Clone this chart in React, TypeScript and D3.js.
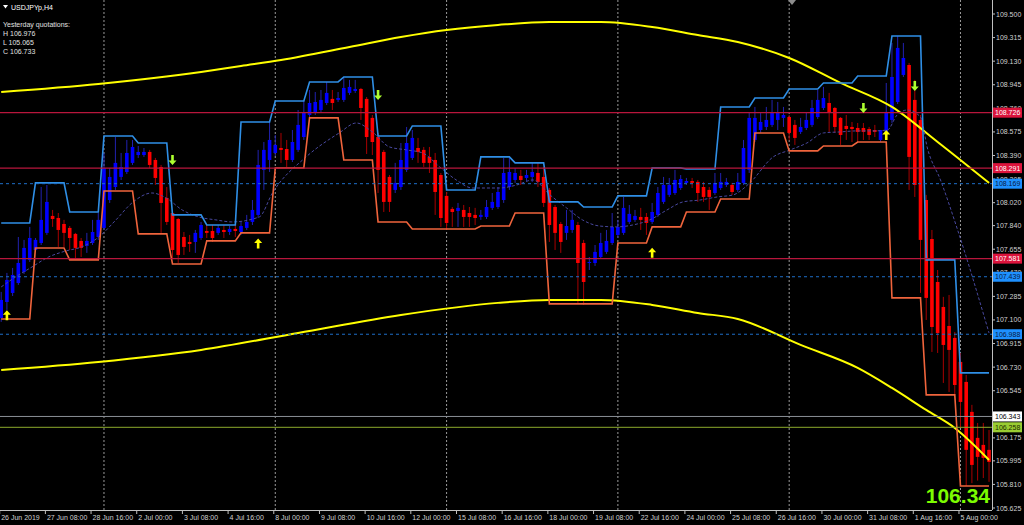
import React from 'react';
import * as d3 from 'd3';

// ---------- DATA ----------
const opens = [
  107.116, 107.241, 107.312, 107.390, 107.477, 107.571, 107.649, 107.704, 107.783, 107.916,
  107.900, 107.853, 107.822, 107.775, 107.720, 107.681, 107.704, 107.751, 107.822, 108.041,
  108.143, 108.222, 108.261, 108.332, 108.394, 108.394, 108.418, 108.355, 108.300, 108.057,
  107.939, 107.892, 107.751, 107.712, 107.712, 107.743, 107.798, 107.798, 107.783, 107.806,
  107.790, 107.814, 107.790, 107.822, 107.869, 107.924, 108.277, 108.355, 108.410, 108.449,
  108.441, 108.355, 108.434, 108.535, 108.708, 108.724, 108.747, 108.802, 108.834, 108.826,
  108.826, 108.881, 108.896, 108.912, 108.834, 108.685, 108.535, 108.418, 108.222, 108.120,
  108.143, 108.277, 108.371, 108.449, 108.434, 108.379, 108.355, 108.237, 108.073, 107.971,
  107.955, 107.963, 107.939, 107.924, 107.908, 107.908, 107.979, 107.986, 108.041, 108.143,
  108.198, 108.230, 108.214, 108.222, 108.253, 108.222, 108.120, 107.986, 107.853, 107.783,
  107.806, 107.845, 107.704, 107.547, 107.547, 107.594, 107.634, 107.704, 107.767, 107.783,
  107.869, 107.885, 107.908, 107.908, 107.869, 107.924, 108.026, 108.081, 108.096, 108.135,
  108.175, 108.190, 108.183, 108.143, 108.120, 108.096, 108.135, 108.159, 108.159, 108.120,
  108.175, 108.277, 108.512, 108.590, 108.614, 108.630, 108.669, 108.685, 108.692, 108.630,
  108.575, 108.606, 108.630, 108.692, 108.763, 108.802, 108.763, 108.685, 108.622, 108.614,
  108.606, 108.606, 108.598, 108.590, 108.512, 108.575, 108.669, 108.810, 109.022, 109.100,
  108.826, 108.669, 108.041, 107.735, 107.398, 107.202, 107.053, 106.959, 106.771, 106.614,
  106.379, 106.175, 106.120, 106.081,
];
const highs = [
  107.320, 107.469, 107.508, 107.751, 107.728, 107.830, 107.743, 108.143, 108.159, 107.963,
  107.939, 107.885, 107.837, 107.783, 107.743, 107.783, 107.885, 107.939, 108.410, 108.292,
  108.535, 108.410, 108.512, 108.512, 108.465, 108.449, 108.434, 108.371, 108.316, 108.143,
  107.963, 107.900, 107.790, 107.767, 107.806, 107.869, 107.845, 107.845, 107.845, 107.845,
  107.837, 107.845, 107.869, 107.924, 108.041, 108.434, 108.496, 108.653, 108.551, 108.567,
  108.512, 108.590, 108.747, 108.818, 108.904, 108.888, 108.904, 108.967, 108.904, 108.888,
  108.998, 108.983, 108.983, 108.920, 108.849, 108.708, 108.567, 108.434, 108.237, 108.332,
  108.488, 108.614, 108.590, 108.528, 108.457, 108.457, 108.410, 108.253, 108.104, 107.986,
  108.018, 108.002, 107.986, 107.979, 107.963, 108.041, 108.096, 108.143, 108.371, 108.371,
  108.292, 108.277, 108.277, 108.332, 108.332, 108.300, 108.135, 108.002, 107.869, 107.963,
  107.963, 107.869, 107.728, 107.594, 107.688, 107.783, 107.806, 107.939, 107.885, 108.065,
  108.002, 107.963, 107.979, 107.939, 108.018, 108.143, 108.222, 108.214, 108.277, 108.237,
  108.214, 108.214, 108.198, 108.183, 108.143, 108.253, 108.253, 108.214, 108.175, 108.253,
  108.512, 108.724, 108.771, 108.724, 108.771, 108.826, 108.810, 108.771, 108.708, 108.669,
  108.685, 108.724, 108.826, 108.904, 108.928, 108.881, 108.771, 108.692, 108.708, 108.653,
  108.645, 108.645, 108.614, 108.630, 108.590, 108.959, 109.273, 109.328, 109.273, 109.116,
  108.983, 108.708, 108.081, 107.806, 107.492, 107.281, 107.296, 107.006, 106.841, 106.669,
  106.434, 106.292, 106.292, 106.237,
];
const lows = [
  107.085, 107.179, 107.288, 107.375, 107.461, 107.555, 107.634, 107.688, 107.767, 107.830,
  107.673, 107.673, 107.649, 107.571, 107.594, 107.626, 107.688, 107.728, 107.806, 108.018,
  108.120, 108.198, 108.245, 108.316, 108.371, 108.379, 108.292, 108.159, 107.783, 107.845,
  107.586, 107.547, 107.610, 107.634, 107.626, 107.728, 107.743, 107.712, 107.767, 107.743,
  107.767, 107.751, 107.767, 107.806, 107.845, 107.900, 108.120, 108.261, 108.386, 108.332,
  108.300, 108.339, 108.418, 108.512, 108.685, 108.708, 108.732, 108.786, 108.747, 108.810,
  108.810, 108.865, 108.881, 108.669, 108.402, 108.394, 108.096, 107.947, 107.947, 108.096,
  108.120, 108.261, 108.355, 108.332, 108.300, 108.253, 107.924, 107.830, 107.806, 107.830,
  107.830, 107.830, 107.830, 107.845, 107.885, 107.892, 107.963, 107.971, 108.018, 108.120,
  108.175, 108.159, 108.190, 108.183, 108.143, 107.986, 107.712, 107.649, 107.626, 107.728,
  107.783, 107.234, 107.218, 107.492, 107.524, 107.579, 107.618, 107.688, 107.743, 107.767,
  107.853, 107.869, 107.806, 107.767, 107.853, 107.908, 108.010, 108.065, 108.081, 108.120,
  108.159, 108.135, 108.026, 108.026, 107.963, 108.081, 108.120, 108.143, 108.081, 108.104,
  108.159, 108.253, 108.496, 108.567, 108.590, 108.614, 108.590, 108.614, 108.512, 108.473,
  108.559, 108.590, 108.614, 108.677, 108.747, 108.575, 108.567, 108.473, 108.512, 108.496,
  108.496, 108.512, 108.512, 108.535, 108.496, 108.551, 108.645, 108.794, 109.006, 108.120,
  108.065, 107.312, 107.100, 106.849, 106.841, 106.606, 106.535, 106.512, 106.253, 105.798,
  105.820, 105.840, 105.860, 105.830,
];
const closes = [
  107.257, 107.414, 107.453, 107.547, 107.665, 107.743, 107.728, 107.885, 108.026, 107.892,
  107.806, 107.783, 107.743, 107.665, 107.665, 107.720, 107.790, 107.885, 108.292, 108.222,
  108.332, 108.300, 108.410, 108.457, 108.418, 108.418, 108.316, 108.214, 108.018, 107.869,
  107.649, 107.610, 107.673, 107.696, 107.783, 107.845, 107.783, 107.743, 107.822, 107.790,
  107.814, 107.798, 107.837, 107.869, 107.963, 108.316, 108.434, 108.512, 108.473, 108.434,
  108.355, 108.496, 108.630, 108.724, 108.802, 108.810, 108.826, 108.881, 108.802, 108.841,
  108.920, 108.928, 108.912, 108.763, 108.535, 108.496, 108.277, 108.026, 108.026, 108.175,
  108.355, 108.488, 108.528, 108.418, 108.332, 108.332, 108.104, 107.900, 107.861, 107.947,
  107.979, 107.908, 107.908, 107.900, 107.924, 107.986, 108.026, 108.104, 108.253, 108.261,
  108.253, 108.198, 108.237, 108.261, 108.183, 108.018, 107.845, 107.783, 107.712, 107.837,
  107.885, 107.547, 107.398, 107.555, 107.634, 107.704, 107.720, 107.830, 107.830, 107.979,
  107.932, 107.916, 107.885, 107.861, 107.947, 108.096, 108.159, 108.159, 108.198, 108.206,
  108.190, 108.175, 108.096, 108.065, 108.065, 108.175, 108.183, 108.183, 108.104, 108.183,
  108.449, 108.685, 108.685, 108.653, 108.669, 108.724, 108.724, 108.708, 108.567, 108.528,
  108.614, 108.669, 108.763, 108.826, 108.841, 108.724, 108.614, 108.551, 108.598, 108.598,
  108.575, 108.575, 108.551, 108.575, 108.590, 108.732, 109.006, 109.234, 109.155, 108.379,
  108.159, 107.728, 107.273, 107.045, 106.998, 106.904, 106.865, 106.590, 106.457, 106.081,
  105.963, 106.026, 106.018, 105.986,
];

// daily channel (6 H4 bars per day)
const dayHigh = [
  107.861, 108.175, 107.947, 108.543, 108.488, 107.924, 107.845, 108.653, 108.818, 108.967,
  109.006, 108.543, 108.622, 108.120, 108.379, 108.332, 108.026, 107.986, 108.073, 108.292,
  108.284, 108.771, 108.841, 108.912, 108.959, 109.014, 109.328, 107.571, 106.685,
];
const dayLow = [
  107.108, 107.665, 107.571, 108.112, 107.775, 107.539, 107.720, 107.783, 108.292, 108.685,
  108.355, 107.869, 107.814, 107.814, 107.837, 107.939, 107.226, 107.226, 107.704, 107.830,
  107.947, 108.049, 108.567, 108.426, 108.465, 108.496, 107.273, 106.512, 105.798,
];

// moving average (bar, price)
const maBars = [0, 2.5, 5.4, 8.3, 11.3, 14.1, 17.1, 20.1, 22.9, 26.4, 28.9, 31.7, 34.6, 37.6, 40.4, 45.2, 47.5, 53.4, 59.2, 62.2, 65, 68, 71, 73.8, 76.8, 79.7, 82.5, 87.3, 90.3, 93.1, 96.1, 99, 101.8, 104.8, 107.8, 110.6, 113.6, 116.6, 119.4, 122.4, 125.4, 128.2, 131.1, 135.2, 138.2, 141.1, 144, 146.9, 149.9, 152.7, 155.2, 156.9, 158.7, 161, 162.2, 164.5, 167.5, 173];
const maVals = [107.359, 107.437, 107.516, 107.594, 107.641, 107.673, 107.751, 107.885, 108.018, 108.096, 108.057, 107.963, 107.908, 107.885, 107.869, 107.908, 108.096, 108.379, 108.567, 108.645, 108.575, 108.457, 108.434, 108.410, 108.300, 108.198, 108.135, 108.135, 108.159, 108.198, 108.081, 107.979, 107.885, 107.837, 107.830, 107.845, 107.885, 107.963, 108.026, 108.041, 108.065, 108.081, 108.175, 108.379, 108.434, 108.488, 108.567, 108.575, 108.583, 108.583, 108.590, 108.708, 108.747, 108.692, 108.449, 108.198, 107.806, 106.998];

// regression channel (bar, price)
const chanBars = [0, 17, 35, 42, 49, 61, 70, 78, 87, 96, 105, 114, 122, 129, 138, 147, 156, 164, 173];
const chanUpper = [108.888, 108.951, 109.045, 109.092, 109.139, 109.241, 109.320, 109.375, 109.414, 109.437, 109.437, 109.398, 109.335, 109.280, 109.155, 108.959, 108.771, 108.496, 108.175];
const lowBars = [0, 17, 35, 52, 70, 87, 96, 105, 114, 122, 129, 140, 150, 156, 162, 167, 173];
const chanLower = [106.708, 106.771, 106.865, 106.998, 107.139, 107.234, 107.257, 107.257, 107.218, 107.155, 107.108, 106.904, 106.724, 106.567, 106.394, 106.253, 106.002];

// signal arrows
const upArrowBars = [1, 45, 114, 155];
const upArrowPrices = [107.136, 107.700, 107.627, 108.551];
const downArrowBars = [30, 66, 151, 160];
const downArrowPrices = [108.355, 108.865, 108.763, 108.935];

// horizontal levels
const redLevels = [108.726, 108.291, 107.581];
const blueLevels = [108.169, 107.439, 106.988];
const bidLevel = 106.343;
const askLevel = 106.258;

// axes
const priceTicks = [109.5, 109.315, 109.13, 108.945, 108.76, 108.575, 108.39, 108.205, 108.02, 107.84, 107.655, 107.47, 107.285, 107.1, 106.915, 106.73, 106.545, 106.175, 105.995, 105.81, 105.625];
const timeLabels = ["26 Jun 2019", "27 Jun 08:00", "28 Jun 16:00", "2 Jul 00:00", "3 Jul 08:00", "4 Jul 16:00", "8 Jul 00:00", "9 Jul 08:00", "10 Jul 16:00", "12 Jul 00:00", "15 Jul 08:00", "16 Jul 16:00", "18 Jul 00:00", "19 Jul 08:00", "22 Jul 16:00", "24 Jul 00:00", "25 Jul 08:00", "26 Jul 16:00", "30 Jul 00:00", "31 Jul 08:00", "1 Aug 16:00", "5 Aug 00:00"];
const timeLabelBars = timeLabels.map((_, i) => i * 8);
const gridBars = [18, 48, 78, 108, 138, 168];

const infoLines = ["Yesterday quotations:", "H 106.976", "L 105.065", "C 106.733"];
const symbolTitle = "USDJPYp,H4";
const bigPrice = "106.34";

// ---------- CHART ----------
const FONT = "'Liberation Sans', Arial, sans-serif";

export default function App() {
  const plotRight = 992;
  const plotBottom = 510;
  const x = d3.scaleLinear().domain([0, 173]).range([1.2, 1.2 + 5.71 * 173]);
  const y = d3.scaleLinear().domain([105.625, 109.5]).range([508, 14]);

  const bars = d3.range(opens.length);
  const line = d3.line<[number, number]>().x((d) => x(d[0])).y((d) => y(d[1]));
  const smooth = d3.line<[number, number]>().x((d) => x(d[0])).y((d) => y(d[1])).curve(d3.curveMonotoneX);

  const upperPts = bars.map((i) => [i, dayHigh[Math.floor(i / 6)]] as [number, number]);
  const lowerPts = bars.map((i) => [i, dayLow[Math.floor(i / 6)]] as [number, number]);
  const maPts = maBars.map((b, i) => [b, maVals[i]] as [number, number]);
  const cuPts = chanBars.map((b, i) => [b, chanUpper[i]] as [number, number]);
  const clPts = lowBars.map((b, i) => [b, chanLower[i]] as [number, number]);

  const upArrow = (cx: number, cy: number) =>
    `M${cx - 4},${cy - 0.5} L${cx},${cy - 5} L${cx + 4},${cy - 0.5} L${cx + 1.3},${cy - 0.5} L${cx + 1.3},${cy + 5} L${cx - 1.3},${cy + 5} L${cx - 1.3},${cy - 0.5} Z`;
  const downArrow = (cx: number, cy: number) =>
    `M${cx - 4},${cy + 0.5} L${cx},${cy + 5} L${cx + 4},${cy + 0.5} L${cx + 1.3},${cy + 0.5} L${cx + 1.3},${cy - 5} L${cx - 1.3},${cy - 5} L${cx - 1.3},${cy + 0.5} Z`;

  const fmt = d3.format('.3f');

  return (
    <svg width={1024} height={525} style={{ position: 'absolute', left: 0, top: 0, display: 'block', background: '#000' }}>
      <rect x={0} y={0} width={1024} height={525} fill="#000" />
      <defs>
        <clipPath id="plot">
          <rect x={0} y={0} width={plotRight} height={plotBottom} />
        </clipPath>
      </defs>

      <g clipPath="url(#plot)">
        {gridBars.map((b) => (
          <line key={'g' + b} x1={x(b)} x2={x(b)} y1={0} y2={plotBottom} stroke="#9a9a9a" strokeDasharray="2,2" strokeWidth={1} />
        ))}

        {bars.map((i) => {
          const o = opens[i], c = closes[i], h = highs[i], l = lows[i];
          const up = c >= o;
          const top = y(Math.max(o, c));
          const bh = Math.max(1, Math.abs(y(o) - y(c)));
          return (
            <g key={'c' + i}>
              <line x1={x(i)} x2={x(i)} y1={y(h)} y2={y(l)} stroke={up ? '#2222b0' : '#a80000'} strokeWidth={1} />
              <rect x={x(i) - 1.8} y={top} width={3.6} height={bh} fill={up ? '#0000ff' : '#ff0000'} />
            </g>
          );
        })}

        <path d={smooth(cuPts) || ''} fill="none" stroke="#ffff00" strokeWidth={2} />
        <path d={smooth(clPts) || ''} fill="none" stroke="#ffff00" strokeWidth={2} />

        <path d={smooth(maPts) || ''} fill="none" stroke="#48489e" strokeWidth={1} strokeDasharray="3,2" />

        <path d={line(upperPts) || ''} fill="none" stroke="#2f8fe6" strokeWidth={1.6} />
        <path d={line(lowerPts) || ''} fill="none" stroke="#f0643c" strokeWidth={1.6} />

        {redLevels.map((v) => (
          <line key={'r' + v} x1={0} x2={plotRight} y1={y(v)} y2={y(v)} stroke="#b8163c" strokeWidth={1.3} />
        ))}
        {blueLevels.map((v) => (
          <line key={'b' + v} x1={0} x2={plotRight} y1={y(v)} y2={y(v)} stroke="#1e6ec8" strokeWidth={1} strokeDasharray="3,3" />
        ))}
        <line x1={0} x2={plotRight} y1={y(bidLevel)} y2={y(bidLevel)} stroke="#8a9096" strokeWidth={1} />
        <line x1={0} x2={plotRight} y1={y(askLevel)} y2={y(askLevel)} stroke="#8caa2c" strokeWidth={1} />

        {upArrowBars.map((b, i) => (
          <path key={'ua' + i} d={upArrow(x(b), y(upArrowPrices[i]))} fill="#ffff00" />
        ))}
        {downArrowBars.map((b, i) => (
          <path key={'da' + i} d={downArrow(x(b), y(downArrowPrices[i]))} fill="#adff2f" />
        ))}
      </g>

      <path d="M3,5 L8,5 L5.5,8.5 Z" fill="#ffffff" />
      <text x={11} y={10} fill="#ffffff" fontSize={7} fontFamily={FONT}>{symbolTitle}</text>
      {infoLines.map((t, i) => (
        <text key={'il' + i} x={3} y={27 + i * 9} fill="#e0e0e0" fontSize={7} fontFamily={FONT}>{t}</text>
      ))}

      <path d="M788,0 L796,0 L792,5 Z" fill="#8c8c8c" />

      <text x={990} y={503} textAnchor="end" fill="#7cfc00" fontSize={21} fontWeight="bold" fontFamily={FONT}>{bigPrice}</text>

      <line x1={plotRight + 0.5} x2={plotRight + 0.5} y1={0} y2={plotBottom} stroke="#c0c0c0" strokeWidth={1} />
      <line x1={0} x2={plotRight} y1={plotBottom + 0.5} y2={plotBottom + 0.5} stroke="#c0c0c0" strokeWidth={1} />

      {priceTicks.map((v) => (
        <g key={'pt' + v}>
          <line x1={plotRight} x2={plotRight + 3} y1={y(v)} y2={y(v)} stroke="#c0c0c0" />
          <text x={996} y={y(v) + 2.5} fill="#d0d0d0" fontSize={7} fontFamily={FONT}>{fmt(v)}</text>
        </g>
      ))}

      {timeLabels.map((t, i) => {
        const tx = x(timeLabelBars[i]) - 1.5;
        return (
          <g key={'tl' + i}>
            <line x1={tx} x2={tx} y1={plotBottom} y2={plotBottom + 4} stroke="#c0c0c0" />
            <text x={Math.max(0, tx + 1.5)} y={519.5} fill="#d0d0d0" fontSize={7} fontFamily={FONT}>{t}</text>
          </g>
        );
      })}

      {redLevels.map((v) => (
        <g key={'rl' + v}>
          <rect x={993} y={y(v) - 5} width={29} height={10} fill="#dc143c" />
          <text x={995} y={y(v) + 2.5} fill="#ffffff" fontSize={7} fontFamily={FONT}>{fmt(v)}</text>
        </g>
      ))}
      {blueLevels.map((v) => (
        <g key={'bl' + v}>
          <rect x={993} y={y(v) - 5} width={29} height={10} fill="#1e90ff" />
          <text x={995} y={y(v) + 2.5} fill="#0a1a40" fontSize={7} fontFamily={FONT}>{fmt(v)}</text>
        </g>
      ))}
      <rect x={993} y={y(bidLevel) - 5} width={29} height={10} fill="#ffffff" />
      <text x={995} y={y(bidLevel) + 2.5} fill="#000000" fontSize={7} fontFamily={FONT}>{fmt(bidLevel)}</text>
      <rect x={993} y={y(askLevel) - 5} width={29} height={10} fill="#9acd32" />
      <text x={995} y={y(askLevel) + 2.5} fill="#1a2a00" fontSize={7} fontFamily={FONT}>{fmt(askLevel)}</text>
    </svg>
  );
}
